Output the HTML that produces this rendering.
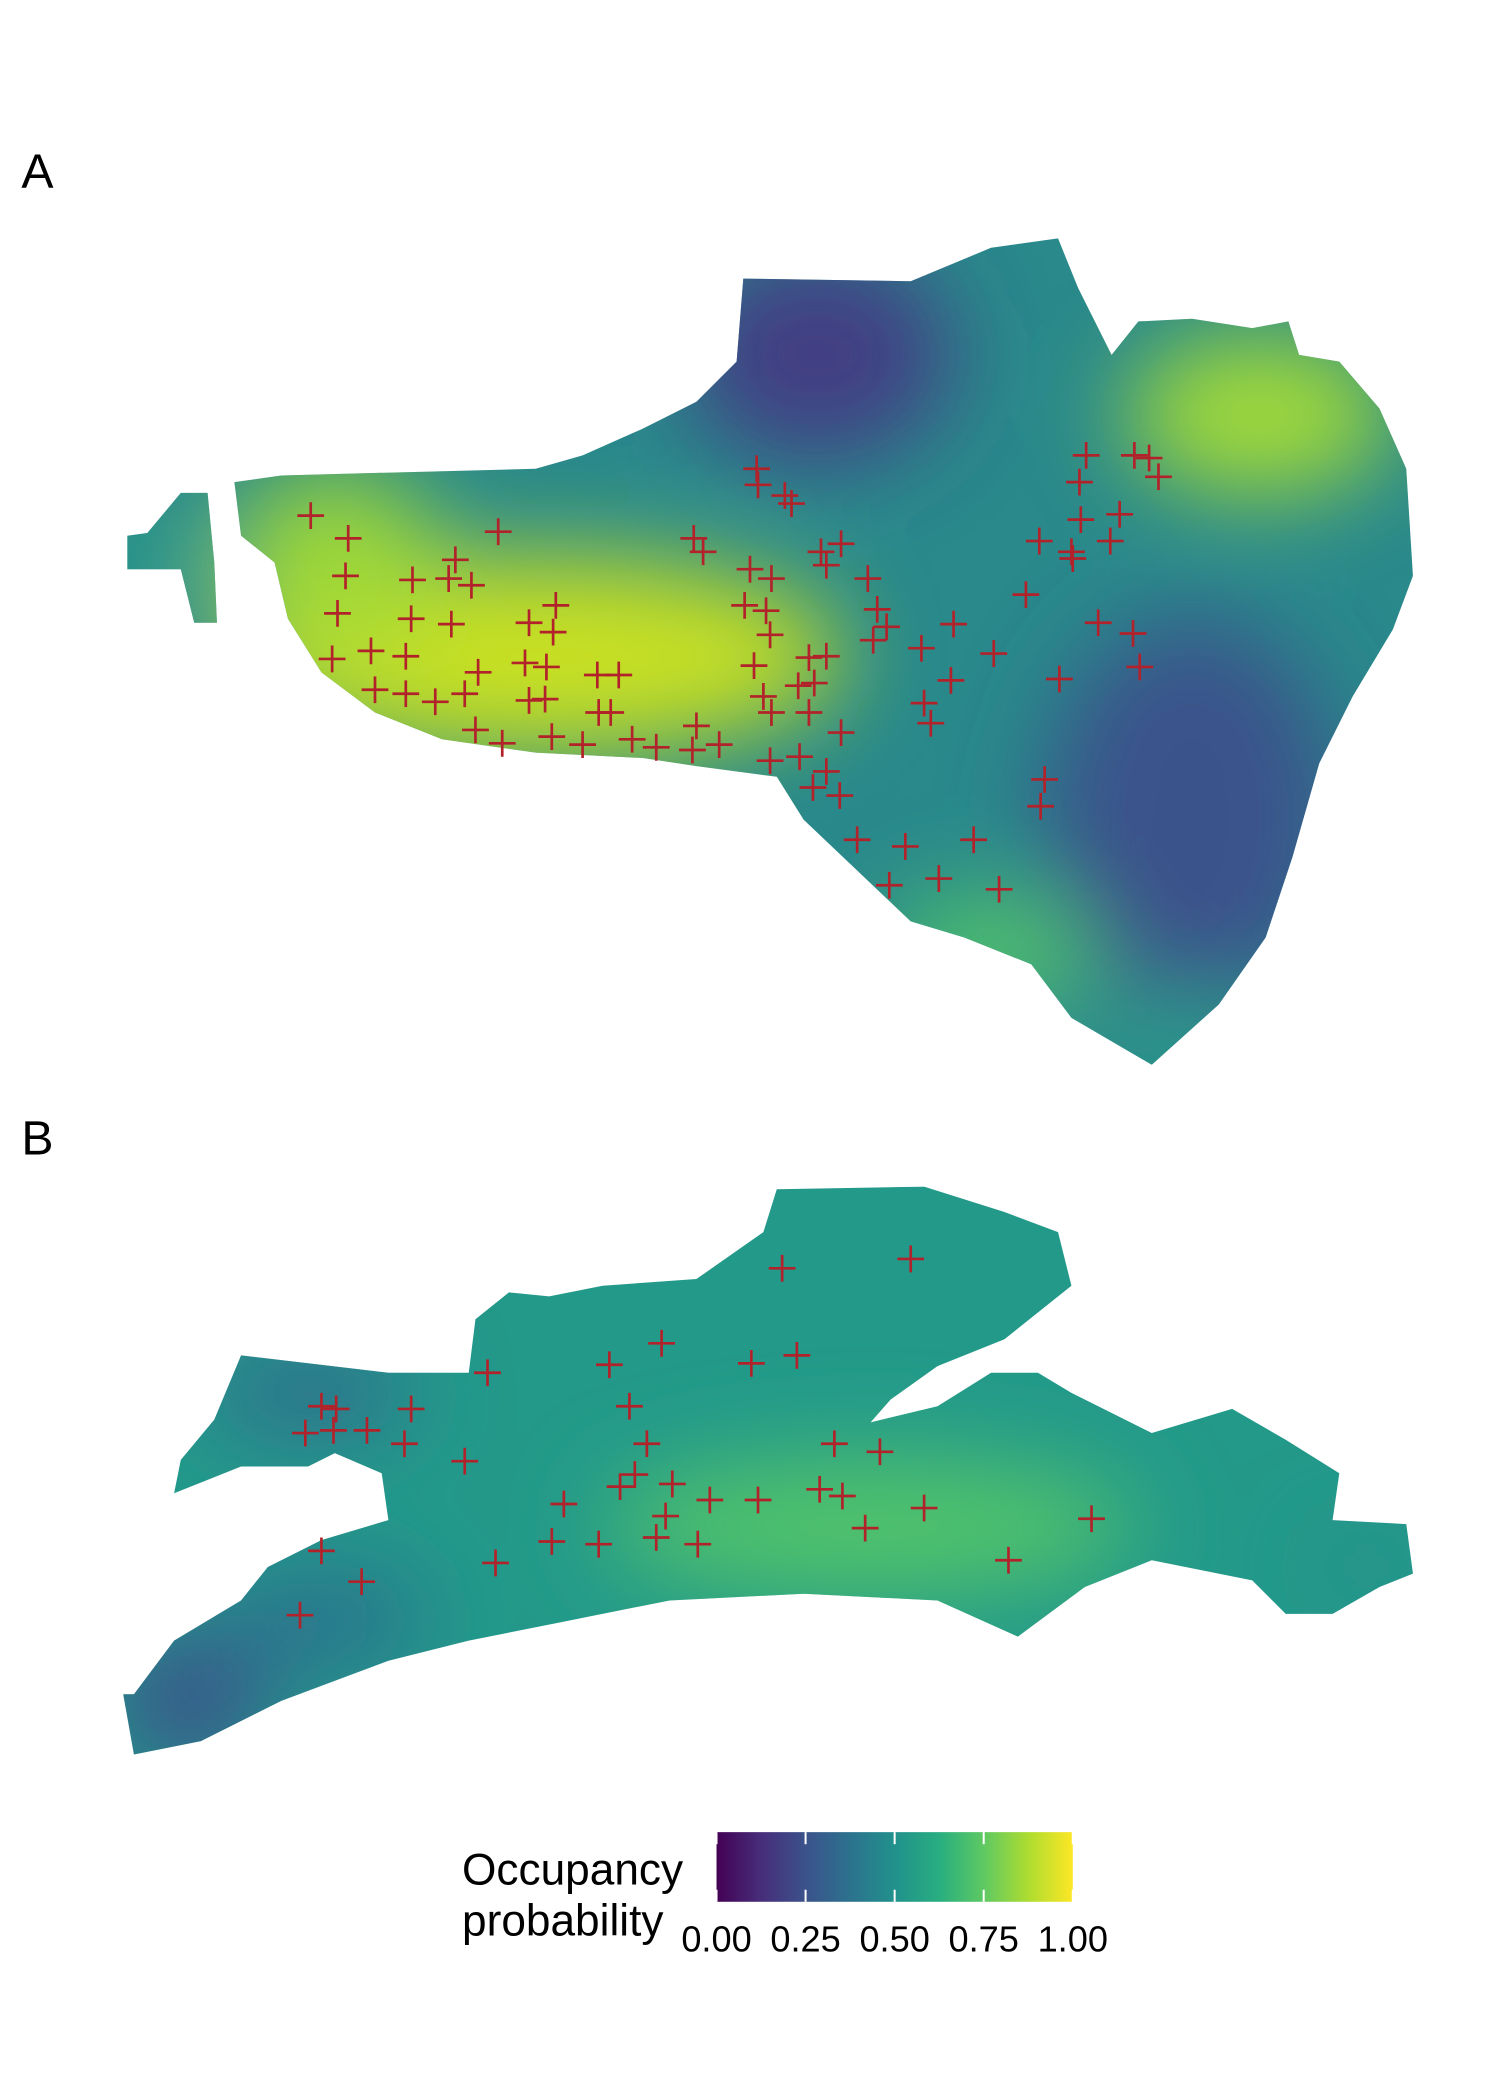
<!DOCTYPE html>
<html><head><meta charset="utf-8"><style>
html,body{margin:0;padding:0;background:#fff;}
svg{display:block;font-family:"Liberation Sans",sans-serif;}
</style></head><body>
<svg id="chart" width="1500" height="2100" viewBox="0 0 1120 1568" xmlns="http://www.w3.org/2000/svg">
<defs>
<linearGradient id="viridis" x1="0" x2="1" y1="0" y2="0">
<stop offset="0" stop-color="#440154"/><stop offset="0.125" stop-color="#472d7b"/><stop offset="0.25" stop-color="#3b528b"/><stop offset="0.375" stop-color="#2c728e"/><stop offset="0.5" stop-color="#21918c"/><stop offset="0.625" stop-color="#28ae80"/><stop offset="0.75" stop-color="#5ec962"/><stop offset="0.875" stop-color="#addc30"/><stop offset="1" stop-color="#fde725"/>
</linearGradient>
<filter id="blur" x="-50%" y="-50%" width="200%" height="200%"><feGaussianBlur stdDeviation="35"/></filter>
<clipPath id="clipA"><path id="shapeA" d="M175,360 L210,355 L400,350 L435,340 L480,320 L520,300 L550,270 L555,208 L680,210 L740,185 L790,178 L805,215 L830,265 L850,240 L890,238 L935,245 L962,240 L970,265 L1000,270 L1030,305 L1050,350 L1055,430 L1040,470 L1010,520 L985,570 L965,640 L945,700 L910,750 L860,795 L800,760 L770,720 L720,700 L680,688 L640,650 L600,612 L580,580 L520,572 L480,566 L400,562 L330,552 L280,532 L240,502 L215,462 L205,420 L180,400 Z M95,400 L110,398 L135,368 L155,368 L160,420 L162,465 L145,465 L135,425 L95,425 Z"/></clipPath>
<clipPath id="clipB"><path d="M100,1265 L130,1225 L180,1195 L200,1170 L240,1150 L290,1135 L285,1100 L250,1085 L230,1095 L180,1095 L130,1115 L135,1090 L160,1060 L180,1012 L290,1025 L350,1025 L355,985 L380,965 L410,968 L450,960 L520,955 L570,920 L580,888 L690,886 L750,905 L790,920 L800,960 L750,1000 L700,1020 L665,1045 L650,1062 L700,1050 L740,1025 L775,1025 L800,1040 L860,1070 L920,1052 L960,1075 L1000,1100 L995,1135 L1050,1138 L1055,1175 L1030,1185 L995,1205 L960,1205 L935,1180 L860,1165 L810,1185 L760,1222 L700,1195 L600,1190 L500,1195 L415,1212 L350,1225 L290,1240 L210,1270 L150,1300 L100,1310 L92,1265 Z"/></clipPath>
</defs>

<text x="16" y="140" font-size="36">A</text>
<text x="16" y="862" font-size="36">B</text>

<g clip-path="url(#clipA)">
<rect x="80" y="170" width="990" height="640" fill="#29898b"/>
<g filter="url(#blur)">
<ellipse cx="400" cy="490" rx="230" ry="75" fill="#c8e020"/>
<ellipse cx="250" cy="420" rx="80" ry="70" fill="#9fd838"/>
<ellipse cx="610" cy="265" rx="100" ry="80" fill="#433d84"/>
<ellipse cx="940" cy="310" rx="100" ry="60" fill="#a2da37"/>
<ellipse cx="890" cy="610" rx="110" ry="150" fill="#3b528b"/>
<ellipse cx="740" cy="710" rx="80" ry="40" fill="#52c569"/>
<ellipse cx="880" cy="770" rx="60" ry="30" fill="#2a9e88"/>
<ellipse cx="120" cy="420" rx="40" ry="40" fill="#2a9e88"/>
</g>
</g>

<g clip-path="url(#clipB)">
<rect x="80" y="870" width="990" height="450" fill="#23998a"/>
<g filter="url(#blur)">
<ellipse cx="650" cy="1140" rx="200" ry="50" fill="#52c569"/>
<ellipse cx="230" cy="1040" rx="80" ry="30" fill="#31688e"/>
<ellipse cx="140" cy="1270" rx="60" ry="50" fill="#3b528b"/>
<ellipse cx="240" cy="1210" rx="80" ry="40" fill="#2c728e"/>
<ellipse cx="1020" cy="1170" rx="40" ry="20" fill="#2a8a8b"/>
</g>
</g>

<g id="crossesA"></g>
<g id="crossesB"></g>

<g>
<text x="345" y="1407" font-size="33">Occupancy</text>
<text x="345" y="1445" font-size="33">probability</text>
<rect x="535" y="1368" width="266" height="52" fill="url(#viridis)"/>
<g id="legendTicks"></g>
</g>
</svg>
<script>
const crossAX=[232,260,258,252,248,277,303,280,303,325,347,357,308,307,337,335,340,352,372,415,413,395,392,408,395,407,355,375,412,435,446,462,447,456,472,490,517,520,537,518,525,565,566,586,591,560,576,556,572,613,628,617,648,655,662,652,563,575,604,617,596,608,570,576,604,628,575,597,617,607,627,640,676,727,664,701,746,688,712,742,710,690,695,766,791,820,846,851,811,847,858,865,806,807,836,776,800,801,829,780,777];
const crossAY=[385,402,430,458,492,486,490,515,518,524,518,502,433,462,466,432,418,437,397,452,472,465,495,498,523,522,545,555,550,556,504,504,532,532,552,558,560,542,556,402,412,350,362,370,376,425,432,452,456,412,406,422,432,455,468,478,497,474,491,490,512,510,520,532,532,547,568,565,576,588,594,627,632,627,661,656,664,484,466,488,508,525,540,444,507,465,473,498,340,340,342,356,360,388,384,404,412,417,404,582,602];
const crossBX=[584,680,494,455,561,595,364,470,483,240,251,307,228,249,274,302,347,623,657,474,463,502,421,530,566,612,629,497,490,521,447,412,370,240,270,224,646,690,815,753];
const crossBY=[947,940,1003,1019,1018,1012,1025,1050,1078,1050,1052,1052,1070,1068,1068,1078,1091,1078,1084,1101,1110,1108,1123,1120,1120,1112,1117,1132,1148,1153,1153,1151,1167,1158,1181,1206,1141,1126,1134,1165];
const legendTicks=["0.00","0.25","0.50","0.75","1.00"];
const legendVals=[0,0.25,0.5,0.75,1];

const NS="http://www.w3.org/2000/svg";
function drawCrosses(gid,xs,ys,prefix){
  const g=document.getElementById(gid);
  for(let i=0;i<xs.length;i++){
    const p=document.createElementNS(NS,"path");
    const x=xs[i],y=ys[i],s=10;
    p.setAttribute("d",`M${x-s},${y}H${x+s}M${x},${y-s}V${y+s}`);
    p.setAttribute("stroke","#b2222a");
    p.setAttribute("stroke-width","2");
    
    
    g.appendChild(p);
  }
}
drawCrosses("crossesA",crossAX,crossAY,"detection-marker-a");
drawCrosses("crossesB",crossBX,crossBY,"detection-marker-b");

const lg=document.getElementById("legendTicks");
const barX=535,barW=266;
legendVals.forEach((v,i)=>{
  const x=barX+v*barW;
  const t=document.createElementNS(NS,"text");
  t.setAttribute("x",x);t.setAttribute("y",1457);
  t.setAttribute("font-size","27");t.setAttribute("text-anchor","middle");
  t.textContent=legendTicks[i];
  
  
  lg.appendChild(t);
  [1368,1411].forEach(y0=>{
    const l=document.createElementNS(NS,"line");
    l.setAttribute("x1",x);l.setAttribute("x2",x);
    l.setAttribute("y1",y0);l.setAttribute("y2",y0+9);
    l.setAttribute("stroke","#fff");l.setAttribute("stroke-width","1.5");
    
    
    lg.appendChild(l);
  });
});
</script>
</body></html>
